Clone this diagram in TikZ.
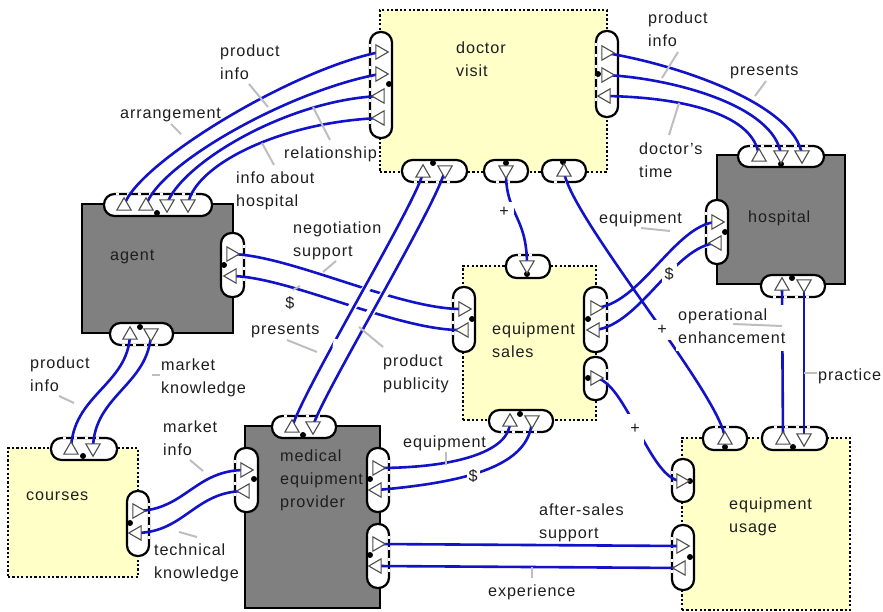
\documentclass[tikz,border=0pt]{standalone}
\usepackage{fontspec}
\setmainfont[LetterSpace=5.5]{Liberation Sans}
\usetikzlibrary{shapes.geometric}
\pgfdeclarelayer{tri}
\pgfsetlayers{main,tri}
\definecolor{boxyellow}{RGB}{255,255,200}
\definecolor{boxgray}{RGB}{128,128,128}
\definecolor{connblue}{RGB}{18,18,200}
\definecolor{leadgray}{RGB}{190,190,190}
\definecolor{txt}{RGB}{30,30,30}
\tikzset{
  dotbox/.style={draw=black,fill=boxyellow,line width=2.4pt,dash pattern=on 2.2pt off 2.2pt,anchor=north west,inner sep=0pt,outer sep=0pt},
  solidbox/.style={draw=black,fill=boxgray,line width=2.6pt,anchor=north west,inner sep=0pt,outer sep=0pt},
  pillshape/.style={draw=black,fill=white,line width=2.2pt,rounded corners=10.5pt},
  pillgap/.style={draw=white,line width=2.8pt,dash pattern=on 3pt off 8pt},
  tribase/.style={regular polygon,regular polygon sides=3,minimum size=16.5pt,inner sep=0pt,outer sep=0pt,draw=black!70,fill=white,line width=1.1pt},
  tup/.style={tribase},
  tdn/.style={tribase,shape border rotate=180},
  trt/.style={tribase,shape border rotate=-90},
  tlf/.style={tribase,shape border rotate=90},
  pdot/.style={circle,fill=black,inner sep=0pt,minimum size=6pt},
  conn/.style={draw=connblue,line width=2.6pt},
  connover/.style={conn,preaction={draw=white,line width=8pt,shorten <=90pt,shorten >=90pt}},
  lab/.style={anchor=west,align=left,inner sep=0pt,yshift=-1.5pt,text=txt,font=\fontsize{16.2}{23}\selectfont},
  sign/.style={anchor=center,inner sep=0pt,text=txt,font=\fontsize{16.2}{23}\selectfont},
  opwhite/.style={lab,fill=white,inner ysep=0pt,inner xsep=2pt},
  leadline/.style={draw=leadgray,line width=2pt}
}
\newcounter{leadno}
\newcommand\leadseg[4]{\stepcounter{leadno}%
  \coordinate (la\theleadno) at (#1,#2);\coordinate (lb\theleadno) at (#3,#4);%
  \draw[leadline] (la\theleadno) -- (lb\theleadno);}
% horizontal pill: x1 y1 x2 y2, y of the gapped side
\newcommand\pillH[5]{\draw[pillshape] (#1,#2) rectangle (#3,#4);
  \draw[pillgap] ({#1+12},#5) -- ({#3-11},#5);}
% vertical pill: x1 y1 x2 y2, x of the gapped side
\newcommand\pillV[5]{\draw[pillshape] (#1,#2) rectangle (#3,#4);
  \draw[pillgap] (#5,{#2+12}) -- (#5,{#4-11});}
\newcommand\tri[4]{\begin{pgfonlayer}{tri}\node[#2] (#1) at (#3,#4) {};\end{pgfonlayer}}
\newcommand\pd[3]{\begin{pgfonlayer}{tri}\node[pdot] (#1) at (#2,#3) {};\end{pgfonlayer}}
\newcommand\conn[4]{\draw[conn] (#1.center) .. controls (#3) and (#4) .. (#2.center);}
\begin{document}
\begin{tikzpicture}[x=1pt,y=-1pt]
\useasboundingbox (0,0) rectangle (883,612);
% boxes
\node[dotbox,minimum width=227pt,minimum height=162pt] (doctor) at (380,10) {};
\node[solidbox,minimum width=128pt,minimum height=129pt] (hospital) at (717,155) {};
\node[solidbox,minimum width=151pt,minimum height=129pt] (agent) at (82,204) {};
\node[dotbox,minimum width=133pt,minimum height=154pt] (sales) at (463,266) {};
\node[dotbox,minimum width=130pt,minimum height=129pt] (courses) at (8,448) {};
\node[solidbox,minimum width=135pt,minimum height=182pt] (provider) at (245,426) {};
\node[dotbox,minimum width=168pt,minimum height=172pt] (usage) at (682,438) {};
% ports
\pillV{370}{32}{392}{138}{370}
\pillV{596}{31}{618}{117}{596}
\pillH{402}{160}{467}{182}{182}
\pillH{484}{160}{528}{182}{182}
\pillH{542}{160}{586}{182}{182}
\pillH{738}{146}{824}{167}{146}
\pillV{706}{200}{728}{264}{706}
\pillH{761}{275}{825}{297}{297}
\pillH{104}{194}{212}{216}{194}
\pillV{221}{233}{244}{297}{244}
\pillH{110}{323}{173}{345}{345}
\pillH{506}{255}{550}{278}{255}
\pillV{453}{287}{475}{352}{453}
\pillV{584}{287}{607}{352}{607}
\pillV{584}{357}{607}{400}{607}
\pillH{489}{410}{553}{432}{432}
\pillH{51}{438}{117}{460}{438}
\pillV{127}{491}{149}{556}{149}
\pillH{272}{416}{336}{438}{416}
\pillV{235}{448}{258}{512}{235}
\pillV{367}{448}{389}{512}{389}
\pillV{367}{524}{389}{588}{389}
\pillH{703}{427}{747}{450}{427}
\pillH{762}{427}{827}{450}{427}
\pillV{672}{459}{694}{502}{672}
\pillV{672}{525}{694}{590}{672}
% port dots
\pd{pa}{389}{84}\pd{pb}{598}{74}\pd{pc}{433}{163}\pd{pd}{506}{163}\pd{pe}{563}{162}
\pd{pf}{781}{164}\pd{pg}{725}{232}\pd{ph}{792}{278}
\pd{pi}{157}{213}\pd{pj}{224}{265}\pd{pk}{140}{327}
\pd{pl}{527}{274}\pd{pm}{472}{319}\pd{pn}{588}{319}\pd{po}{588}{378}\pd{pp}{520}{414}
\pd{pq}{83}{456}\pd{pr}{130}{523}
\pd{ps}{303}{435}\pd{pt}{254}{479}\pd{pu}{370}{479}\pd{pv}{370}{555}
\pd{pw}{725}{447}\pd{px}{793}{447}\pd{py}{690}{481}\pd{pz}{690}{557}
% triangles
\tri{d1}{trt}{380}{52}\tri{d2}{trt}{380}{74}\tri{d3}{tlf}{380}{96}\tri{d4}{tlf}{380}{118}
\tri{d5}{trt}{606}{53}\tri{d6}{trt}{606}{75}\tri{d7}{tlf}{606}{96}
\tri{d8}{tup}{423}{173}\tri{d9}{tdn}{445}{170}\tri{d10}{tdn}{506}{170}\tri{d11}{tup}{564}{172}
\tri{h1}{tup}{759}{157}\tri{h2}{tdn}{781}{155}\tri{h3}{tdn}{802}{155}
\tri{h4}{trt}{716}{222}\tri{h5}{tlf}{717}{243}
\tri{h6}{tup}{782}{286}\tri{h7}{tdn}{804}{284}
\tri{a1}{tup}{124}{206}\tri{a2}{tup}{146}{206}\tri{a3}{tdn}{167}{204}\tri{a4}{tdn}{188}{204}
\tri{a5}{trt}{231}{254}\tri{a6}{tlf}{232}{276}
\tri{a7}{tup}{130}{335}\tri{a8}{tdn}{151}{333}
\tri{s1}{tdn}{527}{265}\tri{s2}{trt}{463}{309}\tri{s3}{tlf}{464}{330}
\tri{s4}{trt}{595}{308}\tri{s5}{tlf}{595}{330}\tri{s6}{trt}{595}{378}
\tri{s7}{tup}{510}{422}\tri{s8}{tdn}{532}{420}
\tri{c1}{tup}{71}{450}\tri{c2}{tdn}{93}{448}\tri{c3}{trt}{137}{511}\tri{c4}{tlf}{137}{533}
\tri{m1}{tup}{292}{428}\tri{m2}{tdn}{313}{426}\tri{m3}{trt}{245}{470}\tri{m4}{tlf}{245}{491}
\tri{m5}{trt}{377}{468}\tri{m6}{tlf}{377}{490}\tri{m7}{trt}{377}{544}\tri{m8}{tlf}{377}{566}
\tri{u1}{tup}{725}{440}\tri{u2}{tup}{783}{440}\tri{u3}{tdn}{804}{438}
\tri{u4}{trt}{681}{481}\tri{u5}{trt}{681}{546}\tri{u6}{tlf}{681}{568}
% connectors
\conn{a1}{d1}{135,165}{290,70}
\conn{a2}{d2}{157,165}{290,90}
\conn{a3}{d3}{180,165}{285,100}
\conn{a4}{d4}{195,165}{280,122}
\conn{d5}{h3}{680,65}{795,105}
\conn{d6}{h2}{670,78}{775,105}
\conn{d7}{h1}{670,97}{755,110}
\conn{a5}{s2}{290,255}{400,310}
\conn{a6}{s3}{290,277}{400,332}
\draw[connover] (d8.center) .. controls (415,205) and (300,395) .. (m1.center);
\draw[connover] (d9.center) .. controls (437,205) and (322,395) .. (m2.center);
\conn{d10}{s1}{505,215}{527,215}
\conn{d11}{u1}{572,220}{725,400}
\conn{h4}{s4}{675,225}{640,305}
\conn{h5}{s5}{675,245}{640,325}
\draw[conn] (h6.center) -- (u2.center);
\draw[conn] (h7.center) -- (u3.center);
\conn{a7}{c1}{128,385}{72,395}
\conn{a8}{c2}{149,385}{94,395}
\conn{c3}{m3}{185,510}{195,470}
\conn{c4}{m4}{185,532}{195,491}
\conn{m5}{s7}{460,468}{510,450}
\conn{m6}{s8}{470,482}{530,465}
\conn{s6}{u4}{625,380}{650,480}
\draw[conn] (m7.center) -- (u5.center);
\draw[conn] (m8.center) -- (u6.center);
% labels
\node[lab] (t1) at (456,58.5) {\strut doctor\\visit\strut};
\node[lab] (t2) at (648,28.5) {\strut product\\info\strut};
\node[lab] (t3) at (730,69) {\strut presents};
\node[lab] (t4) at (220,61.5) {\strut product\\info\strut};
\node[lab] (t5) at (120,112) {\strut arrangement};
\node[lab] (t6) at (284,152) {\strut relationship};
\node[lab] (t7) at (236,188.5) {\strut info about\\hospital\strut};
\node[lab] (t8) at (639,159.5) {\strut doctor's\\time\strut};
\node[lab] (t9) at (748,216) {\strut hospital};
\node[lab] (t10) at (599,217) {\strut equipment};
\node[sign,fill=white,inner sep=3pt] (t11) at (669,274) {\$};
\node[lab] (t12) at (110,254) {\strut agent};
\node[lab] (t13) at (293,238.5) {\strut negotiation\\support\strut};
\node[sign] (t14) at (290,303) {\$};
\node[lab] (t15) at (251,328) {\strut presents};
\node[lab] (t16) at (383,371.5) {\strut product\\publicity\strut};
\node[lab] (t17) at (492,339.5) {\strut equipment\\sales\strut};
\node[sign,fill=white,inner sep=5pt] (t18) at (504,212) {+};
\node[sign,fill=white,inner sep=5pt] (t19) at (662,330) {+};
\node[sign,fill=white,inner xsep=4pt,inner ysep=10pt] (t20) at (635,429) {+};
\node[opwhite] (t21) at (676,326) {\strut operational\\enhancement\strut};
\node[lab] (t22) at (818,374) {\strut practice};
\node[lab] (t23) at (30,373.5) {\strut product\\info\strut};
\node[lab] (t24) at (161,375.5) {\strut market\\knowledge\strut};
\node[lab] (t25) at (163,437.5) {\strut market\\info\strut};
\node[lab] (t26) at (280,478.5) {\strut medical\\equipment\\provider\strut};
\node[lab] (t27) at (26,494) {\strut courses};
\node[lab] (t28) at (154,560.5) {\strut technical\\knowledge\strut};
\node[lab] (t29) at (403,441) {\strut equipment};
\node[sign,fill=white,inner xsep=2pt,inner ysep=1pt] (t30) at (473,476) {\$};
\node[lab] (t31) at (539,520.5) {\strut after-sales\\support\strut};
\node[lab] (t32) at (488,590) {\strut experience};
\node[lab] (t33) at (729,514.5) {\strut equipment\\usage\strut};
% leader lines
\leadseg{249}{84}{268}{107}
\leadseg{171}{124}{181}{134}
\leadseg{313}{107}{330}{140}
\leadseg{262}{143}{274}{165}
\leadseg{678}{52}{662}{78}
\leadseg{766}{81}{755}{96}
\leadseg{679}{103}{669}{135}
\leadseg{641}{228}{670}{231}
\leadseg{336}{261}{323}{272}
\leadseg{293}{290}{300}{286}
\leadseg{287}{340}{317}{352}
\leadseg{359}{327}{383}{347}
\leadseg{733}{324}{782}{326}
\leadseg{804}{373}{817}{373}
\leadseg{59}{396}{74}{403}
\leadseg{152}{375}{160}{375}
\leadseg{190}{460}{203}{471}
\leadseg{179}{532}{197}{537}
\leadseg{446}{452}{446}{465}
\leadseg{532}{567}{532}{578}
\end{tikzpicture}
\end{document}
